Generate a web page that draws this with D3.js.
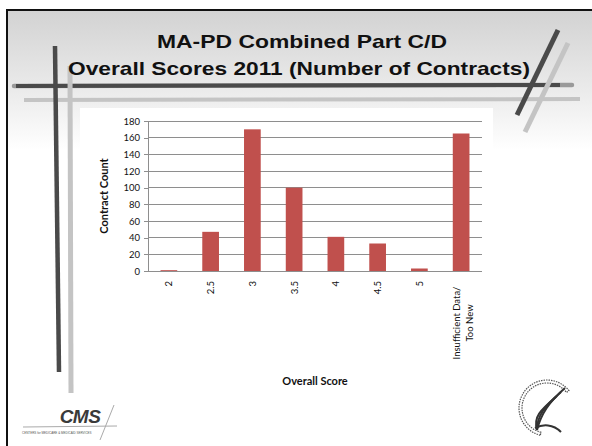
<!DOCTYPE html>
<meta charset="utf-8">
<script src="https://d3js.org/d3.v7.min.js"></script>
<style>
  body { margin: 0; background: #fff; }
</style>
<body>
<script>

// chart data
var categories = ["2", "2.5", "3", "3.5", "4", "4.5", "5", "Insufficient Data/|Too New"];
var counts = [1, 47, 170, 100, 41, 33, 3, 165];
var yTicks = [0, 20, 40, 60, 80, 100, 120, 140, 160, 180];
var titleLines = ["MA-PD Combined Part C/D", "Overall Scores 2011 (Number of Contracts)"];

var width = 592,
    height = 446;

var arial = "'Liberation Sans', Arial, Helvetica, sans-serif";
var font = "Lato, 'Open Sans', sans-serif";

var svg = d3.select("body").append("svg")
    .attr("width", width)
    .attr("height", height);

// slide background gradient
var grad = svg.append("defs").append("linearGradient")
    .attr("id", "bg")
    .attr("x1", 0).attr("y1", 0).attr("x2", 0).attr("y2", 1);
grad.append("stop").attr("offset", "0%").attr("stop-color", "#d2d2d2");
grad.append("stop").attr("offset", "60%").attr("stop-color", "#ececec");
grad.append("stop").attr("offset", "100%").attr("stop-color", "#ffffff");

svg.append("rect")
    .attr("x", 7).attr("y", 10)
    .attr("width", width - 7).attr("height", 140)
    .style("fill", "url(#bg)");

// slide border (top + left)
svg.append("line").attr("x1", 6).attr("y1", 10).attr("x2", width).attr("y2", 10)
    .style("stroke", "#111").style("stroke-width", 2);
svg.append("line").attr("x1", 7).attr("y1", 9).attr("x2", 7).attr("y2", height)
    .style("stroke", "#111").style("stroke-width", 2);

// decorative strokes
var deco = svg.append("g");
deco.append("line").attr("x1", 14).attr("y1", 86).attr("x2", 572).attr("y2", 85)
    .style("stroke", "#9a9a9a").style("stroke-width", 4.5).style("stroke-linecap", "round");
deco.append("line").attr("x1", 16).attr("y1", 86).attr("x2", 560).attr("y2", 85)
    .style("stroke", "#4a4a4a").style("stroke-width", 4);
deco.append("line").attr("x1", 24).attr("y1", 100).attr("x2", 580).attr("y2", 99)
    .style("stroke", "#c4c4c4").style("stroke-width", 4);
deco.append("line").attr("x1", 70).attr("y1", 66).attr("x2", 71).attr("y2", 393)
    .style("stroke", "#c4c4c4").style("stroke-width", 5);
deco.append("line").attr("x1", 55).attr("y1", 46).attr("x2", 59).attr("y2", 372)
    .style("stroke", "#4a4a4a").style("stroke-width", 4.5);
deco.append("line").attr("x1", 568).attr("y1", 43).attr("x2", 525).attr("y2", 132)
    .style("stroke", "#c4c4c4").style("stroke-width", 5);
deco.append("line").attr("x1", 558).attr("y1", 30).attr("x2", 517).attr("y2", 115)
    .style("stroke", "#4a4a4a").style("stroke-width", 5);

// white chart area
svg.append("rect")
    .attr("x", 80).attr("y", 108)
    .attr("width", 413).attr("height", 290)
    .style("fill", "#fff");

// title (stretched wide like the original slide)
var titleWidths = [290, 462];
svg.append("g").selectAll("text")
    .data(titleLines)
    .enter().append("text")
    .attr("x", function(d, i) { return i === 0 ? 302 : 299; })
    .attr("y", function(d, i) { return 48 + i * 27; })
    .attr("text-anchor", "middle")
    .attr("textLength", function(d, i) { return titleWidths[i]; })
    .attr("lengthAdjust", "spacingAndGlyphs")
    .style("font-family", arial)
    .style("font-weight", "bold")
    .style("font-size", "19px")
    .style("fill", "#111")
    .text(function(d) { return d; });

// scales
var x = d3.scaleBand()
    .domain(categories)
    .range([148, 482])
    .paddingInner(0.6)
    .paddingOuter(0.3);

var y = d3.scaleLinear()
    .domain([0, 180])
    .range([271, 121]);

// gridlines
svg.append("g").selectAll("line")
    .data(yTicks)
    .enter().append("line")
    .attr("x1", 148).attr("x2", 482)
    .attr("y1", function(d) { return y(d); })
    .attr("y2", function(d) { return y(d); })
    .style("stroke", "#8e8e8e")
    .style("stroke-width", 1)
    .attr("shape-rendering", "crispEdges");

// y axis
var yAxis = svg.append("g")
    .attr("transform", "translate(148,0)")
    .call(d3.axisLeft(y).tickValues(yTicks).tickSize(4).tickPadding(4));
yAxis.select(".domain").style("stroke", "#8e8e8e").attr("shape-rendering", "crispEdges");
yAxis.selectAll(".tick line").style("stroke", "#8e8e8e").attr("shape-rendering", "crispEdges");
yAxis.selectAll("text")
    .style("font-family", font)
    .style("font-size", "9.5px")
    .style("fill", "#111");

// bars
svg.append("g").selectAll("rect")
    .data(counts)
    .enter().append("rect")
    .attr("x", function(d, i) { return x(categories[i]); })
    .attr("y", function(d) { return y(d); })
    .attr("width", x.bandwidth())
    .attr("height", function(d) { return y(0) - y(d); })
    .style("fill", "#c0504d");

// x axis line
svg.append("line")
    .attr("x1", 148).attr("x2", 482)
    .attr("y1", y(0)).attr("y2", y(0))
    .style("stroke", "#8e8e8e")
    .attr("shape-rendering", "crispEdges");

// x tick labels (rotated)
var xl = svg.append("g").selectAll("g")
    .data(categories)
    .enter().append("g")
    .attr("transform", function(d) {
        return "translate(" + (x(d) + x.bandwidth() / 2) + ",0)";
    });

xl.each(function(d) {
    var parts = d.split("|");
    var g = d3.select(this);
    if (parts.length === 1) {
        g.append("text")
            .attr("transform", "translate(3.5,281) rotate(-90)")
            .attr("text-anchor", "end")
            .style("font-family", font)
            .style("font-size", "9.5px")
            .style("fill", "#111")
            .text(parts[0]);
    } else {
        parts.forEach(function(p, k) {
            g.append("text")
                .attr("transform", "translate(" + (-1.5 + k * 13) + ",323) rotate(-90)")
                .attr("text-anchor", "middle")
                .style("font-family", font)
                .style("font-size", "9.5px")
                .style("fill", "#111")
                .text(p);
        });
    }
});

// axis titles
svg.append("text")
    .attr("transform", "translate(108,196) rotate(-90)")
    .attr("text-anchor", "middle")
    .style("font-family", font)
    .style("font-weight", "bold")
    .style("font-size", "11px")
    .style("fill", "#111")
    .text("Contract Count");

svg.append("text")
    .attr("x", 315).attr("y", 385)
    .attr("text-anchor", "middle")
    .style("font-family", font)
    .style("font-weight", "bold")
    .style("font-size", "11px")
    .style("fill", "#111")
    .text("Overall Score");

// CMS logo (rough)
var cms = svg.append("g");
cms.append("text")
    .attr("x", 80).attr("y", 423)
    .attr("text-anchor", "middle")
    .style("font-family", arial)
    .style("font-weight", "bold")
    .style("font-style", "italic")
    .style("font-size", "19px")
    .style("letter-spacing", "-0.5px")
    .style("fill", "#3a3a3a")
    .text("CMS");
cms.append("line").attr("x1", 23).attr("y1", 427).attr("x2", 117).attr("y2", 426)
    .style("stroke", "#aaa").style("stroke-width", 1);
cms.append("line").attr("x1", 114).attr("y1", 405).attr("x2", 100).attr("y2", 440)
    .style("stroke", "#aaa").style("stroke-width", 1);
cms.append("text")
    .attr("x", 22).attr("y", 434)
    .style("font-family", arial)
    .style("font-size", "3px")
    .style("fill", "#555")
    .text("CENTERS for MEDICARE & MEDICAID SERVICES");

// HHS logo (rough)
var hhs = svg.append("g").attr("transform", "translate(547,408)");
hhs.append("path")
    .attr("d", d3.arc()({ innerRadius: 25, outerRadius: 28, startAngle: -2.9, endAngle: 0.9 }))
    .style("fill", "none")
    .style("stroke", "#555")
    .style("stroke-width", 1.2)
    .style("stroke-dasharray", "1.5,1");
[0, 4, 8].forEach(function(o) {
    hhs.append("path")
        .attr("d", "M" + (18 - o) + "," + (-20 + o) + " C" + (2 - o) + "," + (-6 + o) + " " + (-6 - o) + "," + (6 + o * 0.3) + " -10,22")
        .style("fill", "none")
        .style("stroke", "#333")
        .style("stroke-width", 2);
});
hhs.append("path")
    .attr("d", "M-12,20 C-4,16 6,16 14,24")
    .style("fill", "none")
    .style("stroke", "#333")
    .style("stroke-width", 2);

</script>
</body>
